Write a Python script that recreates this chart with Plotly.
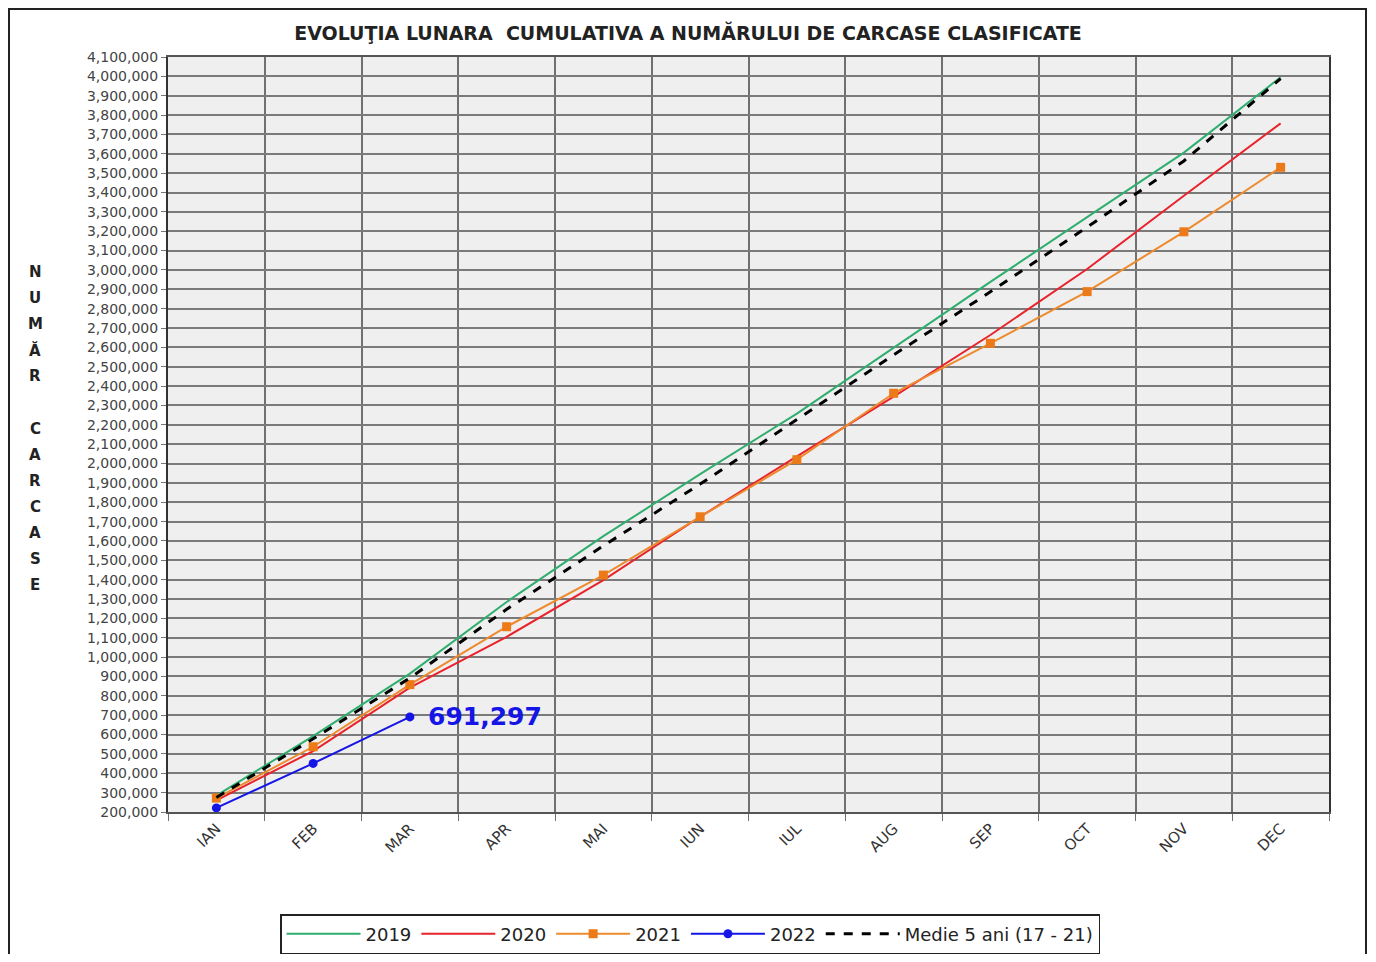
import plotly.graph_objects as go

months = ["IAN", "FEB", "MAR", "APR", "MAI", "IUN", "IUL", "AUG", "SEP", "OCT", "NOV", "DEC"]
y2019 = [285000, 592000, 915000, 1285000, 1625000, 1945000, 2258000, 2600000, 2938000, 3273000, 3606000, 3995000]
y2020 = [260000, 515000, 842000, 1105000, 1398000, 1725000, 2037000, 2346000, 2664000, 3005000, 3383000, 3757000]
y2021 = [272000, 537000, 858000, 1157000, 1424000, 1725000, 2020000, 2363000, 2621000, 2888000, 3197000, 3530000]
y2022 = [221000, 451000, 691297]
medie = [275000, 578000, 892000, 1247000, 1575000, 1894000, 2227000, 2561000, 2887000, 3221000, 3563000, 3988000]
ylabel_letters = ["N", "U", "M", "Ă", "R", "", "C", "A", "R", "C", "A", "S", "E"]

xs = list(range(len(months)))
font = "DejaVu Sans, Arial, sans-serif"

# page has an 8px body margin; figure sized so the page does not scroll
OFF = 8
W, H = 1376 - 2 * OFF, 962 - 2 * OFF
PL, PT, PW, PH = 168, 57, 1161, 755  # plot area in page pixels

fig = go.Figure()
fig.add_trace(go.Scatter(x=xs, y=y2019, mode="lines", name="2019",
                         line=dict(color="#2fae6e", width=2)))
fig.add_trace(go.Scatter(x=xs, y=y2020, mode="lines", name="2020",
                         line=dict(color="#e8232b", width=2)))
fig.add_trace(go.Scatter(x=xs, y=y2021, mode="lines+markers", name="2021",
                         line=dict(color="#ee8a2e", width=2),
                         marker=dict(symbol="square", size=9, color="#ec7a18")))
fig.add_trace(go.Scatter(x=xs[:len(y2022)], y=y2022, mode="lines+markers", name="2022",
                         line=dict(color="#1515e6", width=2),
                         marker=dict(symbol="circle", size=9, color="#1515e6")))
fig.add_trace(go.Scatter(x=xs, y=medie, mode="lines", name="Medie 5 ani (17 - 21)",
                         line=dict(color="#000000", width=3, dash="dash")))

# value label for last 2022 point
fig.add_annotation(x=len(y2022) - 1, y=y2022[-1], text=f"<b>{y2022[-1]:,}</b>",
                   showarrow=False, xanchor="left", yanchor="middle", xshift=16,
                   font=dict(family=font, size=25, color="#1515e6"))

# vertical stacked y-axis title
top_px, step_px = 272, 26.1
for i, ch in enumerate(ylabel_letters):
    if not ch:
        continue
    py = top_px + i * step_px
    fig.add_annotation(x=(35 - PL) / PW, y=(PT + PH - py) / PH, xref="paper", yref="paper",
                       text=f"<b>{ch}</b>", showarrow=False, xanchor="center", yanchor="middle",
                       font=dict(family=font, size=15, color="#222222"))

# outer frame
fig.add_shape(type="rect", xref="paper", yref="paper",
              x0=(9 - PL) / PW, x1=(1366 - PL) / PW,
              y0=(PT + PH - 975) / PH, y1=(PT + PH - 9) / PH,
              line=dict(color="#222222", width=2), fillcolor="rgba(0,0,0,0)", layer="above")

fig.update_layout(
    width=W, height=H,
    margin=dict(l=PL - OFF, r=W - (PL - OFF) - PW, t=PT - OFF, b=H - (PT - OFF) - PH),
    paper_bgcolor="white", plot_bgcolor="#efefef",
    title=dict(text="<b>EVOLUŢIA LUNARA  CUMULATIVA A NUMĂRULUI DE CARCASE CLASIFICATE</b>",
               x=(688 - OFF) / W, xref="container", y=1 - (33 - OFF) / H, yref="container",
               xanchor="center", yanchor="middle",
               font=dict(family=font, size=19, color="#222222")),
    legend=dict(orientation="h", xref="container", yref="container",
                x=(690 - OFF) / W, y=(H + OFF - 934) / H, xanchor="center", yanchor="middle",
                bgcolor="white", bordercolor="#222222", borderwidth=1.5,
                font=dict(family=font, size=18, color="#222222"),
                itemwidth=74),
    showlegend=True,
)

fig.update_xaxes(
    range=[-0.5, len(months) - 0.5], tickmode="array", tickvals=xs, ticktext=months,
    tickangle=-45, ticks="", showgrid=False, zeroline=False,
    tickfont=dict(family=font, size=15, color="#333333"),
    showline=True, linecolor="#555555", linewidth=2, mirror=True,
    minor=dict(tick0=0.5, dtick=1, showgrid=True, gridcolor="#707070", gridwidth=1.5,
               ticks="outside", ticklen=7, tickcolor="#707070"),
)
fig.update_yaxes(
    range=[200000, 4100000], dtick=100000, tick0=200000, tickformat=",",
    showgrid=True, gridcolor="#7a7a7a", gridwidth=2, zeroline=False,
    ticks="outside", ticklen=5, tickcolor="#777777",
    tickfont=dict(family=font, size=14, color="#444444"),
    showline=True, linecolor="#333333", linewidth=2, mirror=True,
)

fig.write_html("out.html")
